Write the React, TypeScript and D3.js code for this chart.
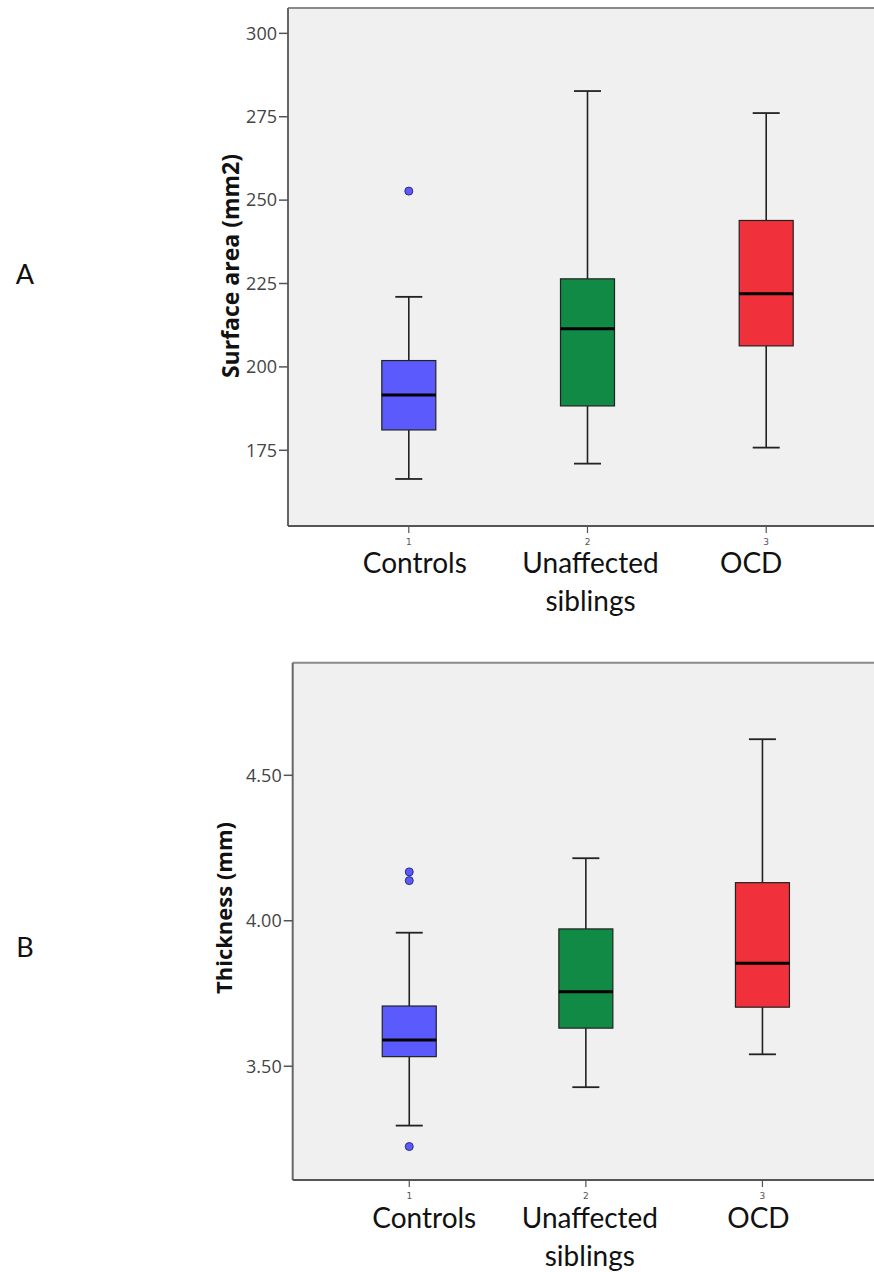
import React from "react";
import * as d3 from "d3";

// ---- data ----
const groups = ["1", "2", "3"];
const groupLabels = [["Controls"], ["Unaffected", "siblings"], ["OCD"]];
const groupColors = ["#5b5bfd", "#108a45", "#f0303a"];

// Panel A: surface area (mm2) — [lowWhisker, Q1, median, Q3, highWhisker]
const areaStats = [
  [166.4, 181.1, 191.6, 201.9, 221.0],
  [171.0, 188.3, 211.4, 226.4, 282.7],
  [175.8, 206.3, 221.9, 243.9, 276.1],
];
const areaOutliers = [[252.7], [], []];
const areaTicks = [175, 200, 225, 250, 275, 300];

// Panel B: thickness (mm)
const thickStats = [
  [3.296, 3.533, 3.59, 3.707, 3.959],
  [3.428, 3.631, 3.756, 3.972, 4.215],
  [3.541, 3.703, 3.854, 4.131, 4.624],
];
const thickOutliers = [[4.168, 4.138, 3.224], [], []];
const thickTicks = [3.5, 4.0, 4.5];

type PanelProps = {
  left: number;
  right: number;
  top: number;
  bottom: number;
  domain: [number, number];
  padding: number;
  stats: number[][];
  outliers: number[][];
  ticks: number[];
  fmt: (v: number) => string;
  title: string;
  titleX: number;
  titleY: number;
  titleSize: number;
  letter: string;
  letterPos: [number, number];
  labelDx: number[];
  labelY: number;
};

function Panel(p: PanelProps) {
  const y = d3.scaleLinear().domain(p.domain).range([p.bottom, p.top]);
  const x = d3.scalePoint<string>().domain(groups).range([p.left, p.right]).padding(p.padding);
  const boxW = 54;
  const capW = 27;
  return (
    <g>
      <rect x={p.left} y={p.top} width={p.right - p.left} height={p.bottom - p.top} fill="#f0f0f0" stroke="none" />
      {/* frame */}
      <line x1={p.left} x2={p.right} y1={p.top} y2={p.top} stroke="#8a8a8a" strokeWidth={2} />
      <line x1={p.left} x2={p.left} y1={p.top} y2={p.bottom} stroke="#666" strokeWidth={2} />
      <line x1={p.left} x2={p.right} y1={p.bottom} y2={p.bottom} stroke="#555" strokeWidth={2} />
      {/* y ticks */}
      {p.ticks.map((t) => (
        <g key={t}>
          <line x1={p.left - 9} x2={p.left} y1={y(t)} y2={y(t)} stroke="#555" strokeWidth={1.5} />
          <text x={p.left - 11} y={y(t)} dy="0.35em" textAnchor="end" fontFamily="'Open Sans', sans-serif" fontSize={18} fill="#444">
            {p.fmt(t)}
          </text>
        </g>
      ))}
      {/* x ticks */}
      {groups.map((g, i) => (
        <g key={g}>
          <line x1={x(g)!} x2={x(g)!} y1={p.bottom} y2={p.bottom + 7} stroke="#555" strokeWidth={1.2} />
          <text x={x(g)!} y={p.bottom + 19} textAnchor="middle" fontFamily="'DejaVu Sans', sans-serif" fontSize={9} fill="#555">
            {g}
          </text>
          {groupLabels[i].map((line, j) => (
            <text key={j} x={x(g)! + p.labelDx[i]} y={p.labelY + j * 38} textAnchor="middle" fontFamily="Lato, sans-serif" fontSize={28} fill="#111">
              {line}
            </text>
          ))}
        </g>
      ))}
      {/* boxes */}
      {p.stats.map((s, i) => {
        const cx = x(groups[i])!;
        const [lo, q1, med, q3, hi] = s;
        return (
          <g key={i}>
            <line x1={cx} x2={cx} y1={y(hi)} y2={y(q3)} stroke="#222" strokeWidth={1.6} />
            <line x1={cx} x2={cx} y1={y(q1)} y2={y(lo)} stroke="#222" strokeWidth={1.6} />
            <line x1={cx - capW / 2} x2={cx + capW / 2} y1={y(hi)} y2={y(hi)} stroke="#222" strokeWidth={1.8} />
            <line x1={cx - capW / 2} x2={cx + capW / 2} y1={y(lo)} y2={y(lo)} stroke="#222" strokeWidth={1.8} />
            <rect x={cx - boxW / 2} y={y(q3)} width={boxW} height={y(q1) - y(q3)} fill={groupColors[i]} stroke="#222" strokeWidth={1.2} />
            <line x1={cx - boxW / 2} x2={cx + boxW / 2} y1={y(med)} y2={y(med)} stroke="#000" strokeWidth={3} />
            {p.outliers[i].map((o, k) => (
              <circle key={k} cx={cx} cy={y(o)} r={4} fill={groupColors[i]} stroke="#2a2a80" strokeWidth={1} />
            ))}
          </g>
        );
      })}
      {/* title */}
      <text
        transform={`translate(${p.titleX},${p.titleY}) rotate(-90)`}
        textAnchor="middle"
        fontFamily="'Open Sans', sans-serif"
        fontWeight="bold"
        fontSize={p.titleSize}
        fill="#111"
      >
        {p.title}
      </text>
      <text x={p.letterPos[0]} y={p.letterPos[1]} textAnchor="middle" fontFamily="Lato, sans-serif" fontSize={27} fill="#111">
        {p.letter}
      </text>
    </g>
  );
}

export default function App() {
  return (
    <svg width={874} height={1272} style={{ position: "absolute", left: 0, top: 0, display: "block", background: "#fff" }}>
      <Panel
        left={288}
        right={887}
        top={8}
        bottom={526}
        domain={[152.3, 307.6]}
        padding={0.676}
        stats={areaStats}
        outliers={areaOutliers}
        ticks={areaTicks}
        fmt={(v) => d3.format("d")(v)}
        title="Surface area (mm2)"
        titleX={239}
        titleY={266}
        titleSize={23}
        letter="A"
        letterPos={[25, 284]}
        labelDx={[6, 3, -15]}
        labelY={573}
      />
      <Panel
        left={292.7}
        right={879}
        top={662.7}
        bottom={1180}
        domain={[3.109, 4.887]}
        padding={0.66}
        stats={thickStats}
        outliers={thickOutliers}
        ticks={thickTicks}
        fmt={(v) => d3.format(".2f")(v)}
        title="Thickness (mm)"
        titleX={232}
        titleY={908}
        titleSize={22}
        letter="B"
        letterPos={[25, 957]}
        labelDx={[15, 4, -4]}
        labelY={1228}
      />
    </svg>
  );
}
